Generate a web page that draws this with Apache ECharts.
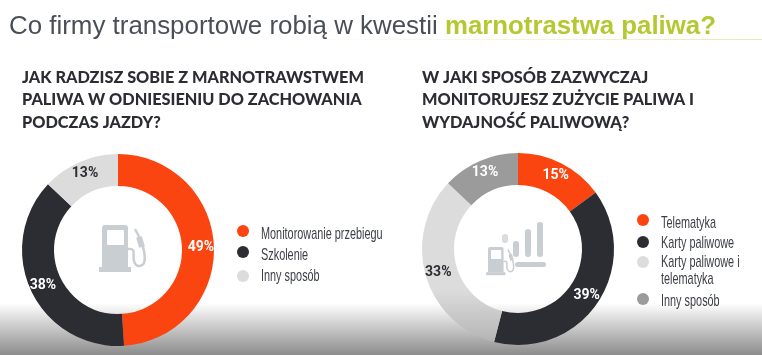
<!DOCTYPE html>
<html>
<head>
<meta charset="utf-8">
<style>
  html, body { margin: 0; padding: 0; background: #fff; }
  #chart { width: 762px; height: 355px; }
</style>
<script src="https://cdn.jsdelivr.net/npm/echarts@6/dist/echarts.min.js"></script>
</head>
<body>
<div id="chart"></div>
<script>
var leftNames = ['Monitorowanie przebiegu', 'Szkolenie', 'Inny sposób'];
var leftValues = [49, 38, 13];
var leftColors = ['#fb4511', '#2c2d33', '#dcdcdc'];
var leftLabelColors = ['#fff', '#fff', '#2c2d33'];

var rightNames = ['Telematyka', 'Karty paliwowe', 'Karty paliwowe i\ntelematyka', 'Inny sposób'];
var rightValues = [15, 39, 33, 13];
var rightColors = ['#fb4511', '#2c2d33', '#dcdcdc', '#9b9b9b'];
var rightLabelColors = ['#fff', '#fff', '#2c2d33', '#fff'];

var titleDark = 'Co firmy transportowe robią w kwestii ';
var titleGreen = 'marnotrastwa paliwa?';
var leftHeading = 'JAK RADZISZ SOBIE Z MARNOTRAWSTWEM\nPALIWA W ODNIESIENIU DO ZACHOWANIA\nPODCZAS JAZDY?';
var rightHeading = 'W JAKI SPOSÓB ZAZWYCZAJ\nMONITORUJESZ ZUŻYCIE PALIWA I\nWYDAJNOŚĆ PALIWOWĄ?';

var iconGrey = '#c9ced3';
var sans = '"Liberation Sans", sans-serif';

function toData(names, values, colors, labelColors) {
  return names.map(function (name, i) {
    return {
      name: name,
      value: values[i],
      itemStyle: { color: colors[i] },
      label: { color: labelColors[i] }
    };
  });
}

function donut(center, data) {
  return {
    type: 'pie',
    radius: [64, 96],
    center: center,
    startAngle: 90,
    silent: true,
    animation: false,
    data: data,
    labelLine: { show: false },
    label: {
      position: 'inside',
      formatter: '{c}%',
      fontFamily: 'Roboto, sans-serif',
      fontWeight: 'bold',
      fontSize: 14
    }
  };
}

// legend text is condensed in the original, no condensed font here so scale it
function legendItems(names, colors, markX, markY, textY) {
  var items = [];
  names.forEach(function (name, i) {
    items.push({ type: 'circle', silent: true, shape: { cx: markX, cy: markY[i], r: 6 }, style: { fill: colors[i] } });
    items.push({
      type: 'text',
      silent: true,
      x: markX + 18,
      y: textY[i],
      scaleX: 0.64,
      style: { text: name, fontFamily: sans, fontSize: 17, lineHeight: 17, fill: '#3c3f46', textVerticalAlign: 'middle' }
    });
  });
  return items;
}

function heading(text, x) {
  return {
    type: 'text',
    silent: true,
    x: x,
    y: 66,
    style: { text: text, fontFamily: 'Lato, sans-serif', fontWeight: 900, fontSize: 16.3, lineHeight: 22.8, fill: '#2c2d33' }
  };
}

function pump(x, y, s) {
  return {
    type: 'group',
    x: x,
    y: y,
    scaleX: s,
    scaleY: s,
    silent: true,
    children: [
      { type: 'rect', shape: { x: 0, y: 0, width: 26, height: 42, r: [3, 3, 0, 0] }, style: { fill: iconGrey } },
      { type: 'rect', shape: { x: 5, y: 5, width: 17, height: 15, r: 1 }, style: { fill: '#fff' } },
      { type: 'rect', shape: { x: -3, y: 42, width: 32, height: 5 }, style: { fill: iconGrey } },
      { type: 'polyline', shape: { points: [[26, 24], [31, 25], [32, 36], [36, 41], [42, 38], [42, 26], [38, 14], [33, 4]], smooth: 0.4 },
        style: { stroke: iconGrey, lineWidth: 2.5, fill: null } },
      { type: 'polyline', shape: { points: [[40, 22], [37, 12]] }, style: { stroke: iconGrey, lineWidth: 6, fill: null } }
    ]
  };
}

function bar(x, y, w, h, color) {
  return { type: 'rect', silent: true, shape: { x: x, y: y, width: w, height: h, r: 3 }, style: { fill: color || iconGrey } };
}

var rightSlices = toData(rightNames, rightValues, rightColors, rightLabelColors);
// the shaded band at the bottom also darkens this light slice
rightSlices[2].itemStyle.color = new echarts.graphic.LinearGradient(0, 290, 0, 345, [
  { offset: 0, color: rightColors[2] },
  { offset: 1, color: '#b2b2b2' }
], true);

var myChart = echarts.init(document.getElementById('chart'));
myChart.setOption({
  animation: false,
  backgroundColor: '#fff',
  title: {
    left: 4,
    top: 9,
    text: '{a|' + titleDark + '}{b|' + titleGreen + '}',
    textStyle: {
      rich: {
        a: { fontFamily: sans, fontSize: 25.9, fontWeight: 'normal', color: '#4a4f57' },
        b: { fontFamily: sans, fontSize: 25.8, fontWeight: 'bold', color: '#b4c832' }
      }
    }
  },
  series: [
    donut([118, 250], toData(leftNames, leftValues, leftColors, leftLabelColors)),
    donut([518, 249], rightSlices)
  ],
  graphic: [
    { type: 'rect', silent: true, z: -1, shape: { x: 0, y: 303, width: 762, height: 52 },
      style: { fill: new echarts.graphic.LinearGradient(0, 0, 0, 1, [{ offset: 0, color: '#ffffff' }, { offset: 1, color: '#8c8c8c' }]) } },
    { type: 'rect', silent: true, shape: { x: 270, y: 39, width: 492, height: 1 },
      style: { fill: new echarts.graphic.LinearGradient(0, 0, 1, 0, [{ offset: 0, color: '#ffffff' }, { offset: 1, color: '#e3eab8' }]) } },
    heading(leftHeading, 22),
    heading(rightHeading, 422),
    pump(102, 225, 1),
    pump(488, 247, 0.6),
    bar(502, 234, 6, 9, '#d9dcdf'),
    bar(513, 241, 6, 16),
    bar(525, 229, 6, 28),
    bar(537, 222, 6, 35),
    bar(515, 262, 31, 5)
  ].concat(
    legendItems(leftNames, leftColors, 243, [231, 252, 276], [234, 255, 276]),
    legendItems(rightNames, rightColors, 643, [220, 242, 262, 299], [223, 243, 271, 301])
  )
});
</script>
</body>
</html>
